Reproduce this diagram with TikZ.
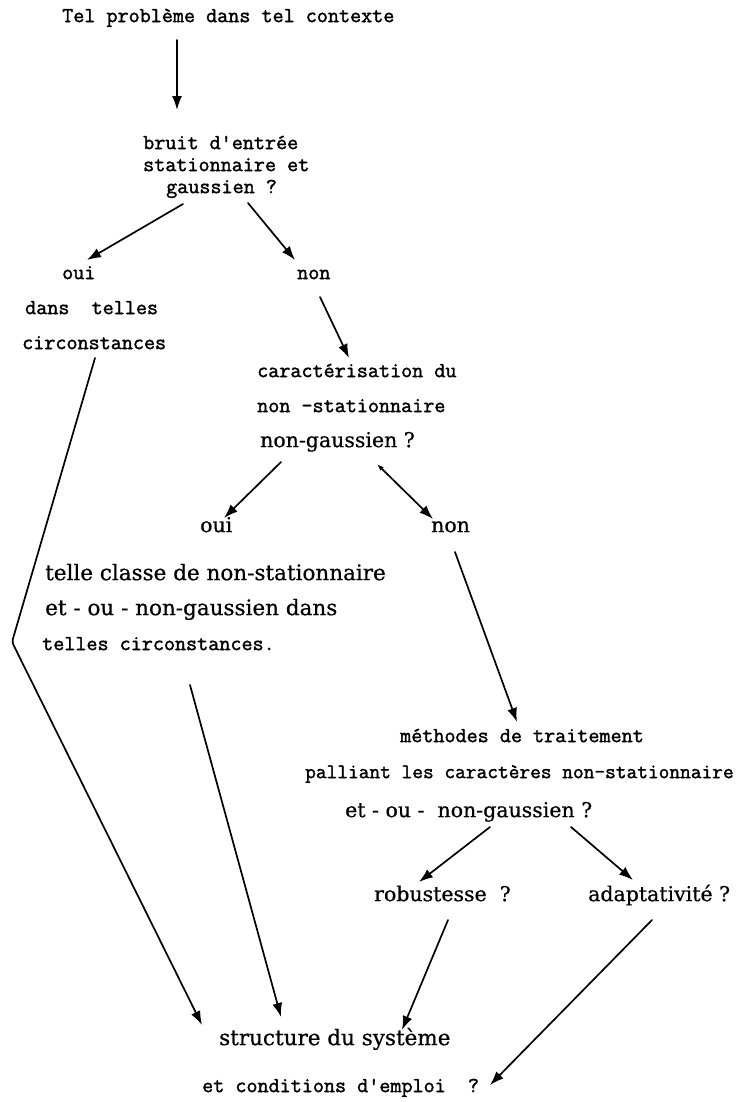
\documentclass[tikz,border=0pt]{standalone}
\usepackage{fontspec}
\newfontfamily\serifdv[FakeBold=0.6]{DejaVu Serif}
\newfontfamily\monolm[FakeBold=1.6]{Latin Modern Mono}
\usetikzlibrary{arrows.meta}
\newcommand\mytt{\monolm\fontsize{21.5bp}{24bp}\selectfont}
\newcommand\mysmtt{\monolm\fontsize{20.8bp}{24bp}\selectfont}
\newcommand\myrm{\serifdv\fontsize{20.5bp}{24bp}\selectfont}
\newcommand\myrmL{\serifdv\fontsize{21.5bp}{24bp}\selectfont}
\begin{document}
\begin{tikzpicture}[x=1bp,y=-1bp,
  lab/.style={inner sep=0pt, anchor=mid west},
  tt/.style={lab, font=\mytt},
  stt/.style={lab, font=\mysmtt},
  rm/.style={lab, font=\myrm},
  rmL/.style={lab, font=\myrmL},
  ln/.style={line width=1.7bp, line cap=round},
  arr/.style={ln, -{Latex[length=14bp,width=10bp]}},
  darr/.style={ln, {Latex[length=7bp,width=5bp]}-{Latex[length=14bp,width=10bp]}}]
\fill[white] (0,0) rectangle (742,1102);
\useasboundingbox (0,0) rectangle (742,1102);
% texts
\node[tt] (title) at (62,20) {Tel problème dans tel contexte};
\node[tt] (b1) at (143,147) {bruit d'entrée};
\node[tt] (b2) at (143,169) {stationnaire et};
\node[tt] (b3) at (166,191) {gaussien ?};
\node[tt] (oui1) at (62,277) {oui};
\node[tt] (non1) at (297,277) {non};
\node[tt] (d1) at (25,312) {dans~~telles};
\node[tt] (d2) at (22,347) {circonstances};
\node[tt] (c1) at (257,375) {caractérisation du};
\node[tt] (c2) at (257,410) {non -stationnaire};
\node[rm] (c3) at (260,445) {non-gaussien ?};
\node[rm] (oui2) at (200,530) {oui};
\node[rm] (non2) at (431,530) {non};
\node[rmL] (t1) at (45,578) {telle classe de non-stationnaire};
\node[rmL] (t2) at (45,613) {et - ou - non-gaussien dans};
\node[tt] (t3) at (42,648) {telles circonstances.};
\node[tt] (m1) at (400,740) {méthodes de traitement};
\node[stt] (m2) at (305,776) {palliant les caractères non-stationnaire};
\node[rm] (m3) at (345,815) {et - ou -~~non-gaussien ?};
\node[rm] (r) at (374,899) {robustesse ~?};
\node[rm] (a) at (588,899) {adaptativité ?};
\node[rmL] (s1) at (219,1043) {structure du système};
\node[tt] (s2) at (202,1090) {et conditions d'emploi~~?};
% connectors
\draw[arr] ([shift={(115,20)}]title.mid west) -- ([shift={(34,-37)}]b1.mid west);
\draw[arr] ([shift={(17,13)}]b3.mid west) -- ([shift={(25,-17)}]oui1.mid west);
\draw[arr] ([shift={(82,12)}]b3.mid west) -- ([shift={(-2,-17)}]non1.mid west);
\draw[arr] ([shift={(23,20)}]non1.mid west) -- ([shift={(92,-17)}]c1.mid west);
\draw[arr, rounded corners=3bp] ([shift={(73,11)}]d2.mid west) -- ([shift={(-30,-6)}]t3.mid west) -- ([shift={(-17,-18)}]s1.mid west);
\draw[arr] ([shift={(21,17)}]c3.mid west) -- ([shift={(24,-12)}]oui2.mid west);
\draw[darr] ([shift={(117,19)}]c3.mid west) -- ([shift={(2,-11)}]non2.mid west);
\draw[arr] ([shift={(24,22)}]non2.mid west) -- ([shift={(117,-18)}]m1.mid west);
\draw[arr] ([shift={(148,37)}]t3.mid west) -- ([shift={(62,-26)}]s1.mid west);
\draw[arr] ([shift={(145,12)}]m3.mid west) -- ([shift={(45,-17)}]r.mid west);
\draw[arr] ([shift={(226,12)}]m3.mid west) -- ([shift={(45,-19)}]a.mid west);
\draw[arr] ([shift={(74,21)}]r.mid west) -- ([shift={(183,-13)}]s1.mid west);
\draw[arr] ([shift={(64,21)}]a.mid west) -- ([shift={(288,-5)}]s2.mid west);
\end{tikzpicture}
\end{document}
